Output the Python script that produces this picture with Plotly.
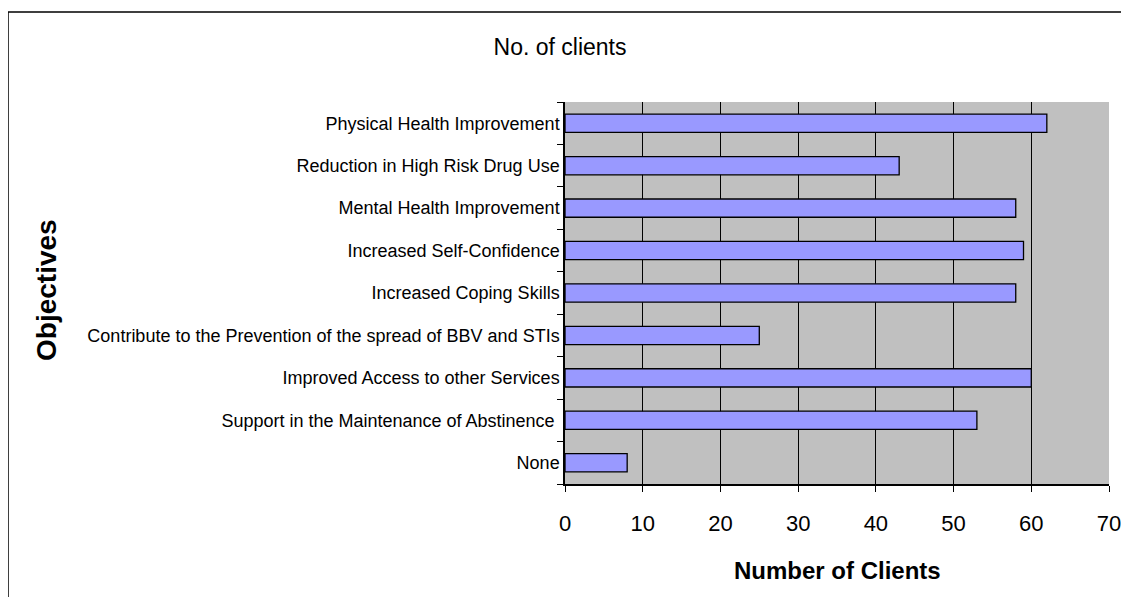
import plotly.graph_objects as go

categories = [
    "None",
    "Support in the Maintenance of Abstinence ",
    "Improved Access to other Services",
    "Contribute to the Prevention of the spread of BBV and STIs",
    "Increased Coping Skills",
    "Increased Self-Confidence",
    "Mental Health Improvement",
    "Reduction in High Risk Drug Use",
    "Physical Health Improvement",
]
values = [8, 53, 60, 25, 58, 59, 58, 43, 62]
x_ticks = [0, 10, 20, 30, 40, 50, 60, 70]

# page has an 8px body margin; figure coordinates are page coordinates minus 8
W, H = 1113, 589
L, R, T, B = 557, 12, 94, 113
pw = W - L - R
ph = H - T - B

font = "Liberation Sans, Arial, sans-serif"

fig = go.Figure(go.Bar(
    y=categories, x=values, orientation="h", width=0.43,
    marker=dict(color="#9999FF", line=dict(color="black", width=1.3)),
))

fig.add_shape(type="rect", xref="paper", yref="paper",
              x0=(0 - L) / pw, x1=(W + 20 - L) / pw,
              y0=-(B + 20) / ph, y1=(H - B - 4) / ph,
              line=dict(color="black", width=1.5), layer="below")

fig.update_layout(
    width=W, height=H,
    margin=dict(l=L, r=R, t=T, b=B),
    paper_bgcolor="white", plot_bgcolor="#C0C0C0",
    showlegend=False,
    title=dict(text="No. of clients", x=552 / W, xanchor="center",
               y=1 - 39 / H, yanchor="middle",
               font=dict(family=font, size=23, color="black")),
    xaxis=dict(range=[0, 70], tickvals=x_ticks, ticktext=[str(v) for v in x_ticks],
               showgrid=True, gridcolor="black", gridwidth=1,
               showline=True, linecolor="black", linewidth=1.5,
               ticks="outside", ticklen=6, tickcolor="black",
               ticklabelstandoff=13, automargin=False, ticklabeloverflow="allow",
               tickfont=dict(family=font, size=22, color="black"),
               zeroline=False, fixedrange=True),
    yaxis=dict(categoryorder="array", categoryarray=categories,
               showline=True, linecolor="black", linewidth=1.5,
               ticks="outside", ticklen=6, tickcolor="black", tickson="boundaries",
               tickfont=dict(family=font, size=18, color="black"),
               showgrid=False, fixedrange=True, automargin=False),
    font=dict(family=font, color="black"),
)
fig.add_annotation(text="<b>Number of Clients</b>", xref="paper", yref="paper",
                   x=0.5, y=-(562 - (H - B)) / ph, yanchor="middle", showarrow=False,
                   font=dict(family=font, size=24, color="black"))
fig.add_annotation(text="<b>Objectives</b>", textangle=-90, xref="paper", yref="paper",
                   x=(38 - L) / pw, y=(H - B - 282) / ph, showarrow=False,
                   xanchor="center", yanchor="middle",
                   font=dict(family=font, size=28, color="black"))

fig.write_html("out.html")
